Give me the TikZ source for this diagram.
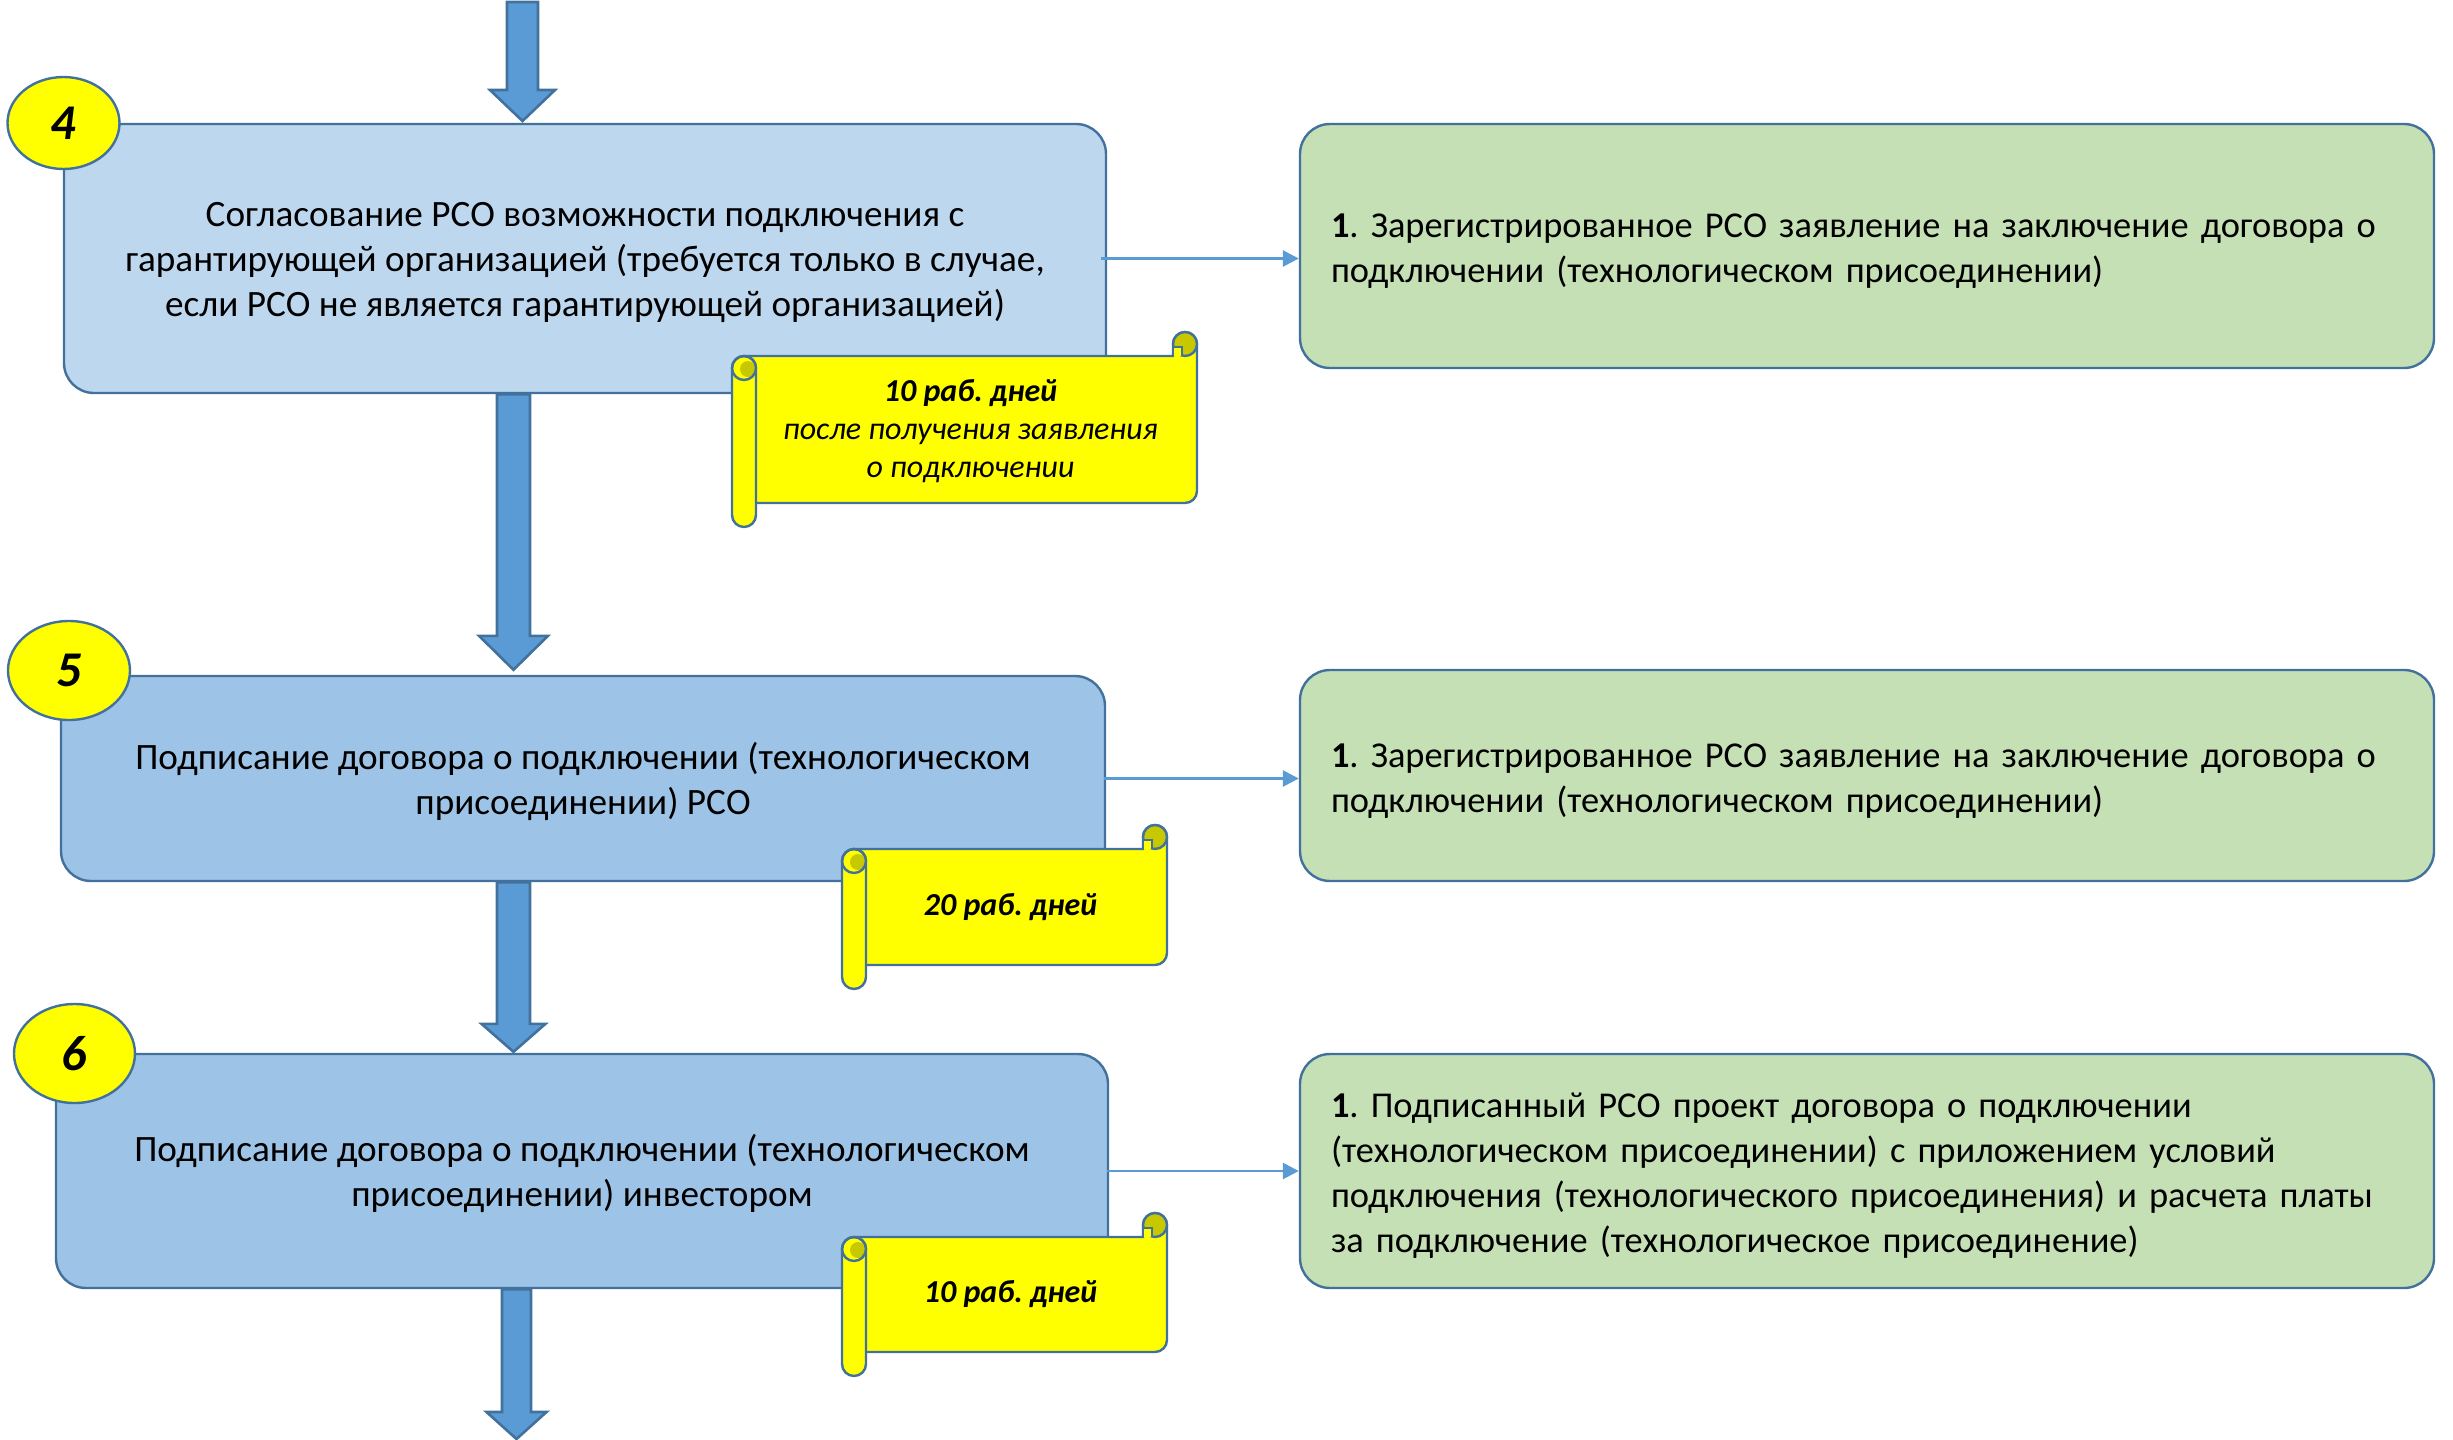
\documentclass[tikz,border=0pt]{standalone}
\usepackage{fontspec}
\setmainfont{Carlito}
\usetikzlibrary{arrows.meta,shapes.geometric,calc}
\definecolor{bluelt}{HTML}{BDD7EE}
\definecolor{bluemd}{HTML}{9DC3E6}
\definecolor{bord}{HTML}{41719C}
\definecolor{grn}{HTML}{C5E0B4}
\definecolor{arr}{HTML}{5B9BD5}
\definecolor{ylw}{HTML}{FFFF00}
\definecolor{olv}{HTML}{C8C800}
\frenchspacing
\newcommand\toplinestep{\rule{0pt}{16.5pt}}
\newcommand\toplineres{\rule{0pt}{17pt}}
\tikzset{
  x=0.5pt, y=-0.5pt,
  stepbox/.style={draw=bord, line width=1.2pt, rounded corners=15pt, align=center,
    font=\fontsize{18.6}{22.5}\selectfont, inner sep=0pt},
  resbox/.style={draw=bord, fill=grn, line width=1.2pt, rounded corners=15pt, align=left,
    font=\fontsize{18.2}{22.5}\selectfont, minimum width=567pt, text width=536pt, inner xsep=15.5pt, inner ysep=0pt},
  numell/.style={ellipse, draw=bord, fill=ylw, line width=1.2pt, inner sep=0pt,
    font=\fontsize{25}{25}\selectfont\bfseries\itshape},
  conn/.style={draw=arr, line width=1.3pt, -{Triangle[length=8pt,width=8pt]}},
  scrollline/.style={draw=bord, line width=1.2pt},
  scrolltext/.style={align=center, font=\fontsize{16}{19}\selectfont\itshape, inner sep=0pt},
  blockarrow/.style={fill=arr, draw=bord, line width=1.3pt, line join=miter},
}
% #1 start, #2 tip, #3 shaft half width, #4 head half width, #5 head length (pt)
\newcommand\barrow[5]{%
  \path[blockarrow] let \p1=(#1), \p2=(#2) in
    (\x1-#3,\y1) -- (\x1+#3,\y1) -- (\x1+#3,\y2+#5) -- (\x1+#4,\y2+#5) -- (\x1,\y2)
    -- (\x1-#4,\y2+#5) -- (\x1-#3,\y2+#5) -- cycle;}
% scroll: L T R B in picture units
\newcommand\scrollshape[4]{%
  \filldraw[scrollline, fill=ylw] (#1+12,#4-24) -- (#1+12,#2+24) -- (#3-24,#2+24) -- (#3-24,#2+12)
    arc[start angle=180, end angle=360, radius=12] -- (#3,#4-36)
    arc[start angle=0, end angle=90, radius=12] -- cycle;
  \filldraw[scrollline, fill=olv] (#3-12,#2+12) circle[radius=12];
  \filldraw[scrollline, fill=ylw] (#3-24,#2+24) -- (#3-24,#2+15) -- (#3-15,#2+15) -- (#3-15,#2+24);
  \filldraw[scrollline, fill=ylw] (#1,#2+36) -- (#1,#4-12) arc[start angle=180, end angle=0, radius=12]
    -- (#1+24,#2+36) arc[start angle=0, end angle=-180, radius=12] -- cycle;
  \fill[olv] (#1+16,#2+37) circle[radius=8];
  \draw[scrollline] (#1+12,#2+36) circle[radius=12];
}
\begin{document}
\begin{tikzpicture}
\useasboundingbox (0,0) rectangle (2453,1440);
% step boxes
\node[stepbox, fill=bluelt, minimum width=521pt, minimum height=134.5pt] (b4) at (585,258.5)
  {\toplinestep Согласование РСО возможности подключения с\\ гарантирующей организацией (требуется только в случае,\\ если РСО не является гарантирующей организацией)};
\node[stepbox, fill=bluemd, minimum width=522pt, minimum height=102.5pt] (b5) at (583,778.5)
  {\toplinestep Подписание договора о подключении (технологическом\\ присоединении) РСО};
\node[stepbox, fill=bluemd, minimum width=526pt, minimum height=117pt] (b6) at (582,1171)
  {\toplinestep Подписание договора о подключении (технологическом\\ присоединении) инвестором};
% result boxes
\node[resbox, minimum height=122pt] (g1) at (1867,246)
  {\toplineres\textbf{1}. Зарегистрированное РСО заявление на заключение договора о\\ подключении (технологическом присоединении)};
\node[resbox, minimum height=105.5pt] (g2) at (1867,775.5)
  {\toplineres\textbf{1}. Зарегистрированное РСО заявление на заключение договора о\\ подключении (технологическом присоединении)};
\node[resbox, minimum height=117pt] (g3) at (1867,1171)
  {\toplineres\textbf{1}. Подписанный РСО проект договора о подключении\\ (технологическом присоединении) с приложением условий\\ подключения (технологического присоединения) и расчета платы\\ за подключение (технологическое присоединение)};
% connectors
\draw[conn] ([xshift=-3pt]b4.east) -- (b4.east -| g1.west);
\draw[conn] ([xshift=-1pt]b5.east) -- (b5.east -| g2.west);
\draw[conn] ([xshift=-1pt]b6.east) -- (b6.east -| g3.west);
% block arrows
\coordinate (a0s) at (522.5,2);
\coordinate (a0e) at (522.5,121);
\coordinate (a1x) at (513.5,0);
\coordinate (a3x) at (516.5,0);
\coordinate (a3e) at (516.5,1439);
\barrow{a0s}{a0e}{7.75pt}{16.25pt}{15.5pt}
\barrow{a1x |- b4.south}{$(a1x |- b5.north)+(0,-5)$}{8.25pt}{17.25pt}{17pt}
\barrow{a1x |- b5.south}{$(a1x |- b6.north)+(0,-1)$}{8.25pt}{16pt}{14pt}
\barrow{a3x |- b6.south}{a3e}{7.25pt}{15pt}{13.5pt}
% number ellipses
\node[numell, minimum width=56pt, minimum height=46pt] (n4) at (63.5,123) {4};
\node[numell, minimum width=61pt, minimum height=49.5pt] (n5) at (69,670.5) {5};
\node[numell, minimum width=60.5pt, minimum height=49.5pt] (n6) at (74.5,1053.5) {6};
% scrolls
\scrollshape{732}{332}{1197}{527}
\node[scrolltext] (s1) at (970.5,431) {\textbf{10 раб. дней}\\ после получения заявления\\ о подключении};
\scrollshape{842}{825}{1167}{989}
\node[scrolltext] (s2) at (1010.5,907) {\textbf{20 раб. дней}};
\scrollshape{842}{1213}{1167}{1376}
\node[scrolltext] (s3) at (1010.5,1294) {\textbf{10 раб. дней}};
\end{tikzpicture}
\end{document}
